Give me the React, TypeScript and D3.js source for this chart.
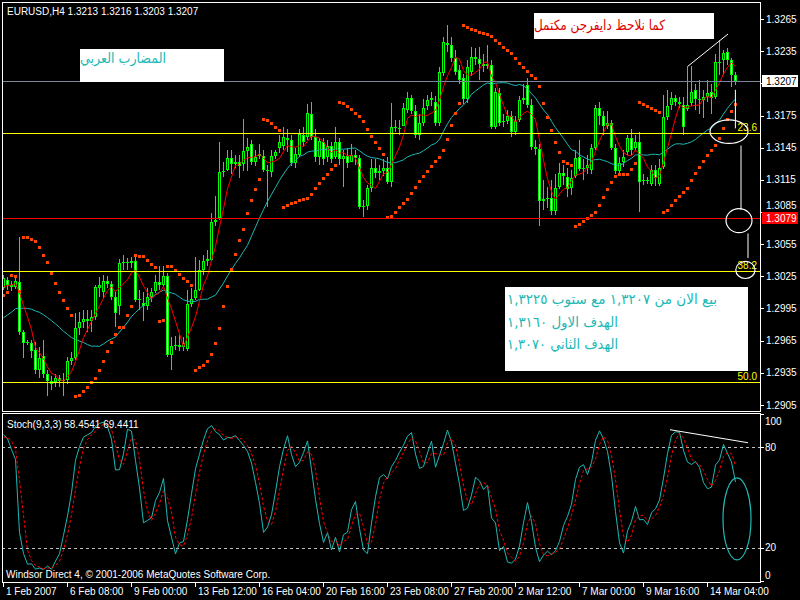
import React, { useEffect, useRef } from 'react'
import * as d3 from 'd3'

// EURUSD H4 bars, 1 Feb 2007 00:00 .. 14 Mar 2007
const opens = [
  1.3014, 1.3022, 1.3017, 1.3015, 1.3020, 1.2973, 1.2963, 1.2963, 1.2956, 1.2938,
  1.2951, 1.2934, 1.2927, 1.2926, 1.2930, 1.2927, 1.2928, 1.2946, 1.2949, 1.2977,
  1.2982, 1.2985, 1.2983, 1.2987, 1.3014, 1.3010, 1.3021, 1.3018, 1.3006, 1.2997,
  1.3037, 1.3038, 1.3037, 1.3039, 1.3003, 1.3000, 1.2997, 1.3006, 1.3011, 1.3020,
  1.3017, 1.3025, 1.2952, 1.2960, 1.2961, 1.2959, 1.2957, 1.2999, 1.3005, 1.3012,
  1.3031, 1.3039, 1.3040, 1.3076, 1.3079, 1.3122, 1.3124, 1.3135, 1.3130, 1.3132,
  1.3130, 1.3142, 1.3148, 1.3132, 1.3137, 1.3137, 1.3124, 1.3122, 1.3137, 1.3145,
  1.3147, 1.3154, 1.3152, 1.3131, 1.3138, 1.3157, 1.3155, 1.3176, 1.3155, 1.3136,
  1.3150, 1.3136, 1.3147, 1.3136, 1.3150, 1.3134, 1.3137, 1.3132, 1.3138, 1.3135,
  1.3090, 1.3091, 1.3107, 1.3126, 1.3121, 1.3123, 1.3126, 1.3113, 1.3164, 1.3163,
  1.3165, 1.3180, 1.3191, 1.3179, 1.3157, 1.3168, 1.3184, 1.3189, 1.3188, 1.3168,
  1.3215, 1.3243, 1.3241, 1.3229, 1.3217, 1.3210, 1.3190, 1.3216, 1.3230, 1.3228,
  1.3223, 1.3221, 1.3222, 1.3164, 1.3196, 1.3169, 1.3170, 1.3175, 1.3160, 1.3171,
  1.3189, 1.3203, 1.3185, 1.3146, 1.3144, 1.3095, 1.3097, 1.3098, 1.3086, 1.3108,
  1.3121, 1.3118, 1.3107, 1.3119, 1.3136, 1.3125, 1.3126, 1.3124, 1.3145, 1.3182,
  1.3175, 1.3165, 1.3168, 1.3145, 1.3123, 1.3132, 1.3141, 1.3154, 1.3145, 1.3150,
  1.3114, 1.3115, 1.3111, 1.3124, 1.3111, 1.3127, 1.3174, 1.3185, 1.3191, 1.3188,
  1.3185, 1.3181, 1.3187, 1.3199, 1.3190, 1.3189, 1.3192, 1.3197, 1.3192, 1.3225,
  1.3227, 1.3234, 1.3227, 1.3213
]
const highs = [
  1.3026, 1.3024, 1.3021, 1.3025, 1.3062, 1.2975, 1.2966, 1.2966, 1.2964, 1.2959,
  1.2966, 1.2938, 1.2932, 1.2934, 1.2933, 1.2935, 1.2950, 1.2954, 1.2991, 1.2992,
  1.2994, 1.2994, 1.2994, 1.3017, 1.3024, 1.3026, 1.3025, 1.3021, 1.3010, 1.3041,
  1.3045, 1.3042, 1.3043, 1.3044, 1.3012, 1.3010, 1.3014, 1.3014, 1.3026, 1.3035,
  1.3035, 1.3028, 1.2968, 1.2969, 1.2970, 1.2968, 1.3012, 1.3014, 1.3043, 1.3040,
  1.3045, 1.3050, 1.3084, 1.3100, 1.3150, 1.3132, 1.3143, 1.3143, 1.3138, 1.3138,
  1.3172, 1.3154, 1.3152, 1.3143, 1.3148, 1.3143, 1.3129, 1.3143, 1.3143, 1.3157,
  1.3164, 1.3162, 1.3157, 1.3145, 1.3162, 1.3164, 1.3186, 1.3188, 1.3162, 1.3154,
  1.3154, 1.3152, 1.3150, 1.3164, 1.3154, 1.3143, 1.3145, 1.3148, 1.3143, 1.3138,
  1.3096, 1.3110, 1.3134, 1.3134, 1.3129, 1.3134, 1.3136, 1.3187, 1.3171, 1.3171,
  1.3187, 1.3197, 1.3194, 1.3185, 1.3176, 1.3190, 1.3194, 1.3197, 1.3193, 1.3220,
  1.3248, 1.3259, 1.3248, 1.3236, 1.3222, 1.3214, 1.3227, 1.3239, 1.3238, 1.3239,
  1.3232, 1.3241, 1.3227, 1.3201, 1.3201, 1.3176, 1.3180, 1.3179, 1.3175, 1.3193,
  1.3204, 1.3210, 1.3190, 1.3152, 1.3148, 1.3115, 1.3108, 1.3115, 1.3120, 1.3131,
  1.3129, 1.3126, 1.3124, 1.3143, 1.3152, 1.3134, 1.3138, 1.3148, 1.3185, 1.3188,
  1.3179, 1.3179, 1.3171, 1.3148, 1.3136, 1.3143, 1.3157, 1.3162, 1.3157, 1.3160,
  1.3120, 1.3118, 1.3129, 1.3129, 1.3134, 1.3194, 1.3199, 1.3197, 1.3194, 1.3192,
  1.3192, 1.3221, 1.3221, 1.3204, 1.3208, 1.3199, 1.3208, 1.3204, 1.3232, 1.3245,
  1.3236, 1.3238, 1.3229, 1.3216
]
const lows = [
  1.3012, 1.3012, 1.3011, 1.3013, 1.2970, 1.2949, 1.2961, 1.2949, 1.2934, 1.2930,
  1.2930, 1.2913, 1.2919, 1.2922, 1.2922, 1.2913, 1.2925, 1.2942, 1.2947, 1.2970,
  1.2977, 1.2973, 1.2973, 1.2984, 1.3006, 1.3005, 1.3014, 1.3003, 1.2978, 1.2989,
  1.3031, 1.3031, 1.3033, 1.3001, 1.2994, 1.2983, 1.2994, 1.3001, 1.3009, 1.3012,
  1.3015, 1.2950, 1.2938, 1.2956, 1.2955, 1.2955, 1.2955, 1.2996, 1.3003, 1.3011,
  1.3026, 1.3035, 1.3039, 1.3072, 1.3078, 1.3118, 1.3123, 1.3120, 1.3126, 1.3117,
  1.3123, 1.3123, 1.3129, 1.3128, 1.3134, 1.3122, 1.3090, 1.3118, 1.3134, 1.3140,
  1.3143, 1.3141, 1.3128, 1.3126, 1.3136, 1.3147, 1.3152, 1.3152, 1.3132, 1.3129,
  1.3129, 1.3132, 1.3131, 1.3134, 1.3129, 1.3108, 1.3126, 1.3132, 1.3129, 1.3088,
  1.3080, 1.3087, 1.3104, 1.3117, 1.3115, 1.3119, 1.3111, 1.3108, 1.3160, 1.3157,
  1.3166, 1.3177, 1.3176, 1.3154, 1.3152, 1.3165, 1.3180, 1.3184, 1.3165, 1.3165,
  1.3212, 1.3234, 1.3225, 1.3213, 1.3204, 1.3186, 1.3187, 1.3212, 1.3222, 1.3208,
  1.3216, 1.3218, 1.3162, 1.3162, 1.3165, 1.3164, 1.3167, 1.3155, 1.3157, 1.3169,
  1.3186, 1.3182, 1.3143, 1.3138, 1.3072, 1.3087, 1.3089, 1.3082, 1.3082, 1.3106,
  1.3110, 1.3099, 1.3101, 1.3117, 1.3123, 1.3115, 1.3120, 1.3120, 1.3143, 1.3166,
  1.3157, 1.3162, 1.3143, 1.3120, 1.3120, 1.3127, 1.3138, 1.3138, 1.3143, 1.3085,
  1.3110, 1.3111, 1.3109, 1.3109, 1.3109, 1.3125, 1.3171, 1.3180, 1.3184, 1.3182,
  1.3157, 1.3179, 1.3184, 1.3180, 1.3176, 1.3173, 1.3188, 1.3176, 1.3190, 1.3213,
  1.3213, 1.3222, 1.3202, 1.3203
]
const closes = [
  1.3023, 1.3017, 1.3015, 1.3021, 1.2973, 1.2963, 1.2964, 1.2955, 1.2938, 1.2949,
  1.2934, 1.2927, 1.2925, 1.2930, 1.2927, 1.2928, 1.2946, 1.2949, 1.2977, 1.2982,
  1.2985, 1.2983, 1.2987, 1.3015, 1.3017, 1.3021, 1.3018, 1.3006, 1.2991, 1.3037,
  1.3038, 1.3037, 1.3039, 1.3003, 1.3004, 1.2997, 1.3006, 1.3010, 1.3020, 1.3017,
  1.3025, 1.2952, 1.2960, 1.2961, 1.2959, 1.2963, 1.2999, 1.3004, 1.3012, 1.3031,
  1.3039, 1.3041, 1.3076, 1.3078, 1.3122, 1.3123, 1.3135, 1.3130, 1.3132, 1.3128,
  1.3142, 1.3146, 1.3132, 1.3136, 1.3139, 1.3124, 1.3123, 1.3137, 1.3141, 1.3150,
  1.3155, 1.3152, 1.3131, 1.3139, 1.3158, 1.3150, 1.3177, 1.3155, 1.3136, 1.3151,
  1.3134, 1.3147, 1.3134, 1.3150, 1.3134, 1.3137, 1.3131, 1.3138, 1.3135, 1.3090,
  1.3091, 1.3107, 1.3126, 1.3121, 1.3123, 1.3126, 1.3113, 1.3164, 1.3163, 1.3162,
  1.3182, 1.3191, 1.3179, 1.3157, 1.3168, 1.3182, 1.3189, 1.3191, 1.3168, 1.3216,
  1.3244, 1.3241, 1.3229, 1.3216, 1.3208, 1.3190, 1.3220, 1.3230, 1.3228, 1.3223,
  1.3221, 1.3223, 1.3164, 1.3197, 1.3168, 1.3170, 1.3175, 1.3160, 1.3170, 1.3189,
  1.3191, 1.3185, 1.3146, 1.3144, 1.3095, 1.3097, 1.3098, 1.3086, 1.3107, 1.3121,
  1.3119, 1.3106, 1.3117, 1.3135, 1.3125, 1.3126, 1.3129, 1.3145, 1.3182, 1.3175,
  1.3165, 1.3168, 1.3145, 1.3123, 1.3131, 1.3136, 1.3154, 1.3143, 1.3150, 1.3113,
  1.3115, 1.3114, 1.3124, 1.3117, 1.3126, 1.3174, 1.3184, 1.3191, 1.3188, 1.3186,
  1.3164, 1.3185, 1.3197, 1.3190, 1.3189, 1.3192, 1.3196, 1.3191, 1.3225, 1.3224,
  1.3233, 1.3227, 1.3213, 1.3207
]

// bars before the visible window, only used to seed the indicators
const priorHighs = [
  1.2968, 1.2966, 1.2963, 1.2966, 1.2972, 1.2974, 1.2977, 1.2979, 1.2984, 1.2986,
  1.2990, 1.2994, 1.3000, 1.3004, 1.3010, 1.3013, 1.3017, 1.3019, 1.3021, 1.3022
]
const priorLows = [
  1.2955, 1.2951, 1.2949, 1.2953, 1.2957, 1.2961, 1.2964, 1.2966, 1.2969, 1.2973,
  1.2976, 1.2979, 1.2984, 1.2990, 1.2996, 1.3000, 1.3004, 1.3006, 1.3008, 1.3010
]
const priorCloses = [
  1.2961, 1.2958, 1.2956, 1.2960, 1.2966, 1.2968, 1.2970, 1.2972, 1.2977, 1.2980,
  1.2983, 1.2986, 1.2992, 1.2997, 1.3003, 1.3007, 1.3011, 1.3012, 1.3014, 1.3016
]

const priceTicks = [1.3265, 1.3235, 1.3205, 1.3175, 1.3145, 1.3115, 1.3085, 1.3055, 1.3025, 1.2995, 1.2965, 1.2935, 1.2905]
const timeLabels = ['1 Feb 2007', '6 Feb 08:00', '9 Feb 00:00', '13 Feb 12:00', '16 Feb 04:00', '20 Feb 16:00',
  '23 Feb 08:00', '27 Feb 20:00', '2 Mar 12:00', '7 Mar 00:00', '9 Mar 16:00', '14 Mar 04:00']
const timeLabelBars = [0, 16, 32, 48, 64, 80, 96, 112, 128, 144, 160, 176]
const fibLabels = ['23.6', '38.2', '50.0']
const fibPrices = [1.3159, 1.3030, 1.2926]
const bidPrice = 1.3207
const alertPrice = 1.3079
const stochTicks = [100, 80, 20, 0]
const stochLevels = [80, 20]

const uiFont = "'Liberation Sans', Arial, sans-serif"
const arFont = "'DejaVu Sans', sans-serif"

export default function App() {
  const svgRef = useRef<SVGSVGElement>(null)

  useEffect(() => {
    if (!svgRef.current) return
    const W = 800, H = 600
    const left = 2, right = 760
    const mainTop = 2, mainBottom = 411
    const subTop = 413, subBottom = 582
    const lime = '#00ff00'
    const teal = '#20b8b4'

    const svg = d3.select(svgRef.current)
    svg.selectAll('*').remove()
    svg.attr('width', W).attr('height', H).style('display', 'block').style('background', '#000')

    const n = closes.length
    const x = d3.scaleLinear().domain([0, n - 1]).range([3, 3 + 4 * (n - 1)])
    const y = d3.scaleLinear().domain([1.2905, 1.3265]).range([405, 19])
    const ys = d3.scaleLinear().domain([0, 100]).range([581, 414])

    // indicators, run over prior + visible bars
    const allH = priorHighs.concat(highs)
    const allL = priorLows.concat(lows)
    const allC = priorCloses.concat(closes)
    const off = priorCloses.length

    const sma = (p: number) => allC.map((_, i) => i < p - 1 ? null : d3.mean(allC.slice(i - p + 1, i + 1)) as number)
    const fastMa = sma(5).slice(off)
    const slowMa = sma(21).slice(off)

    const hh = allH.map((_, i) => i < 8 ? null : d3.max(allH.slice(i - 8, i + 1)) as number)
    const ll = allL.map((_, i) => i < 8 ? null : d3.min(allL.slice(i - 8, i + 1)) as number)
    const kAll = allC.map((_, i) => {
      if (i < 10) return null
      let num = 0, den = 0
      for (let j = i - 2; j <= i; j++) { num += allC[j] - (ll[j] as number); den += (hh[j] as number) - (ll[j] as number) }
      return den === 0 ? 100 : 100 * num / den
    })
    const dAll = kAll.map((_, i) => i < 12 ? null : ((kAll[i] as number) + (kAll[i - 1] as number) + (kAll[i - 2] as number)) / 3)
    const stochMain = kAll.slice(off)
    const stochSignal = dAll.slice(off)

    const sarAll: number[] = []
    let up = true, af = 0.02, ep = allH[0], s = allL[0]
    sarAll.push(s)
    for (let i = 1; i < allC.length; i++) {
      s = s + af * (ep - s)
      if (up) {
        s = Math.min(s, allL[i - 1], allL[Math.max(0, i - 2)])
        if (allL[i] < s) { up = false; s = ep; ep = allL[i]; af = 0.02 }
        else if (allH[i] > ep) { ep = allH[i]; af = Math.min(af + 0.02, 0.2) }
      } else {
        s = Math.max(s, allH[i - 1], allH[Math.max(0, i - 2)])
        if (allH[i] > s) { up = true; s = ep; ep = allH[i]; af = 0.02 }
        else if (allL[i] < ep) { ep = allL[i]; af = Math.min(af + 0.02, 0.2) }
      }
      sarAll.push(s)
    }
    const sar = sarAll.slice(off)

    const defs = svg.append('defs')
    defs.append('clipPath').attr('id', 'clip-main').append('rect')
      .attr('x', left + 1).attr('y', mainTop + 1).attr('width', right - left - 1).attr('height', mainBottom - mainTop - 1)
    defs.append('clipPath').attr('id', 'clip-sub').append('rect')
      .attr('x', left + 1).attr('y', subTop + 1).attr('width', right - left - 1).attr('height', subBottom - subTop - 1)

    // ---- main panel ----
    const main = svg.append('g').attr('clip-path', 'url(#clip-main)')
    const bars = d3.range(n)

    const candle = main.append('g').attr('shape-rendering', 'crispEdges')
      .selectAll('g').data(bars).join('g')
    candle.append('rect')
      .attr('x', i => x(i)).attr('width', 1)
      .attr('y', i => Math.round(y(highs[i])))
      .attr('height', i => Math.max(1, Math.round(y(lows[i])) - Math.round(y(highs[i]))))
      .attr('fill', lime)
    const bodyTop = (i: number) => Math.round(y(Math.max(opens[i], closes[i])))
    const bodyH = (i: number) => Math.max(1, Math.round(y(Math.min(opens[i], closes[i]))) - bodyTop(i))
    candle.append('rect')
      .attr('x', i => x(i) - 1).attr('width', 3)
      .attr('y', bodyTop).attr('height', bodyH)
      .attr('fill', lime)
    candle.filter(i => bodyH(i) >= 3).append('rect')
      .attr('x', i => x(i)).attr('width', 1)
      .attr('y', i => bodyTop(i) + 1).attr('height', i => bodyH(i) - 2)
      .attr('fill', i => closes[i] >= opens[i] ? '#000' : '#fff')

    const maLine = d3.line<number | null>()
      .defined(v => v != null)
      .x((_, i) => x(i) + 0.5)
      .y(v => y(v as number))
    main.append('path').attr('d', maLine(slowMa)).attr('fill', 'none').attr('stroke', teal).attr('stroke-width', 1)
    main.append('path').attr('d', maLine(fastMa)).attr('fill', 'none').attr('stroke', '#ff0000').attr('stroke-width', 1)

    main.append('g').attr('shape-rendering', 'crispEdges')
      .selectAll('rect').data(bars).join('rect')
      .attr('x', i => x(i) - 1).attr('y', i => Math.round(y(sar[i])) - 1)
      .attr('width', 3).attr('height', 3)
      .attr('fill', '#ff4500')

    // horizontal objects
    const hline = (p: number, color: string) => main.append('line')
      .attr('x1', left).attr('x2', right)
      .attr('y1', Math.round(y(p)) + 0.5).attr('y2', Math.round(y(p)) + 0.5)
      .attr('stroke', color).attr('shape-rendering', 'crispEdges')
    fibPrices.forEach(p => hline(p, '#ffff00'))
    hline(bidPrice, '#778899')
    hline(alertPrice, '#ff0000')
    main.append('g').selectAll('text').data(fibLabels).join('text')
      .attr('x', 757).attr('y', (_, i) => Math.round(y(fibPrices[i])) - 2)
      .attr('text-anchor', 'end').attr('fill', '#ffff00')
      .style('font-family', uiFont).style('font-size', '10px')
      .text(d => d)

    // hand drawn annotations (bar index, price)
    const white = '#ffffff'
    const seg = (b1: number, p1: number, b2: number, p2: number) => main.append('line')
      .attr('x1', x(b1)).attr('y1', y(p1)).attr('x2', x(b2)).attr('y2', y(p2))
      .attr('stroke', white).attr('stroke-width', 1)
    const ell = (b: number, p: number, rb: number, rp: number) => main.append('ellipse')
      .attr('cx', x(b)).attr('cy', y(p))
      .attr('rx', x(b + rb) - x(b)).attr('ry', y(p - rp) - y(p))
      .attr('fill', 'none').attr('stroke', white).attr('stroke-width', 1.2)
    seg(171.25, 1.3221, 181.25, 1.3251)
    seg(183.1, 1.3199, 183.1, 1.3163)
    ell(181.5, 1.3160, 4.75, 0.0011)
    seg(184.5, 1.3147, 184.5, 1.3087)
    ell(184, 1.3077, 3.25, 0.00112)
    seg(186.25, 1.3065, 186.25, 1.3042)
    ell(185.6, 1.3031, 2.4, 0.0008)

    // text boxes
    const box = (bx: number, by: number, bw: number, bh: number) =>
      svg.append('rect').attr('x', bx).attr('y', by).attr('width', bw).attr('height', bh).attr('fill', '#fff')
    const arText = (tx: number, ty: number, len: number, color: string, str: string) =>
      svg.append('text').attr('x', tx).attr('y', ty)
        .attr('textLength', len).attr('lengthAdjust', 'spacingAndGlyphs')
        .attr('fill', color).style('font-family', arFont).style('font-size', '14px')
        .text(str)
    box(80, 49, 144, 33)
    arText(80, 63, 86, teal, 'المضارب العربي')
    box(534, 13, 180, 26)
    arText(534, 30, 131, '#e00000', 'كما نلاحظ دايفرجن مكتمل')
    box(505, 287, 243, 84)
    arText(507, 304, 210, teal, 'بيع الان من ١,٣٢٠٧ مع ستوب ١,٣٢٢٥')
    arText(507, 327, 111, teal, 'الهدف الاول ١,٣١٦٠')
    arText(507, 349, 111, teal, 'الهدف الثاني ١,٣٠٧٠')

    // ---- stochastic panel ----
    const sub = svg.append('g').attr('clip-path', 'url(#clip-sub)')
    sub.append('g').selectAll('line').data(stochLevels).join('line')
      .attr('x1', left).attr('x2', right)
      .attr('y1', v => Math.round(ys(v)) + 0.5).attr('y2', v => Math.round(ys(v)) + 0.5)
      .attr('stroke', '#c0c0c0').attr('stroke-dasharray', '3,3').attr('shape-rendering', 'crispEdges')
    const stLine = d3.line<number | null>()
      .defined(v => v != null)
      .x((_, i) => x(i) + 0.5)
      .y(v => ys(v as number))
    sub.append('path').attr('d', stLine(stochMain)).attr('fill', 'none').attr('stroke', teal).attr('stroke-width', 1)
    sub.append('path').attr('d', stLine(stochSignal)).attr('fill', 'none').attr('stroke', '#ff0000')
      .attr('stroke-width', 1).attr('stroke-dasharray', '3,2')
    sub.append('line')
      .attr('x1', x(166.75)).attr('y1', ys(90.6)).attr('x2', x(186.25)).attr('y2', ys(82.8))
      .attr('stroke', white)
    sub.append('ellipse')
      .attr('cx', x(183.5)).attr('cy', ys(37.2))
      .attr('rx', x(187) - x(183.5)).attr('ry', ys(12.6) - ys(37.2))
      .attr('fill', 'none').attr('stroke', teal).attr('stroke-width', 1.2)

    // ---- frames and axes ----
    const frame = svg.append('g').attr('shape-rendering', 'crispEdges').attr('fill', 'none').attr('stroke', '#fff')
    frame.append('rect').attr('x', left + 0.5).attr('y', mainTop + 0.5)
      .attr('width', right - left).attr('height', mainBottom - mainTop)
    frame.append('rect').attr('x', left + 0.5).attr('y', subTop + 0.5)
      .attr('width', right - left).attr('height', subBottom - subTop)

    const axisText = (sel: any) => sel.attr('fill', '#fff').style('font-family', uiFont).style('font-size', '10px')

    // the bid tag hides the tick label right under it; a label just above the alert tag is lifted clear of it
    const shownTicks = priceTicks.filter(p => Math.abs(y(p) - y(bidPrice)) > 4)
    const alertY = y(alertPrice)
    const tagTop = Math.round(alertY) - 6
    const labelY = (p: number) => {
      const yy = y(p)
      return yy < alertY && yy > alertY - 14 ? tagTop - 7 : yy
    }
    const pAxis = svg.append('g')
    pAxis.selectAll('line').data(priceTicks).join('line')
      .attr('x1', right).attr('x2', right + 4)
      .attr('y1', p => Math.round(y(p)) + 0.5).attr('y2', p => Math.round(y(p)) + 0.5)
      .attr('stroke', '#fff').attr('shape-rendering', 'crispEdges')
    pAxis.selectAll('text').data(shownTicks).join('text')
      .attr('x', 766).attr('y', labelY).attr('dy', '0.35em')
      .call(axisText)
      .text(p => d3.format('.4f')(p))

    const tag = (p: number, bg: string, fg: string) => {
      svg.append('rect').attr('x', 762).attr('y', Math.round(y(p)) - 6).attr('width', 36).attr('height', 12).attr('fill', bg)
      svg.append('text').attr('x', 766).attr('y', y(p)).attr('dy', '0.35em')
        .attr('fill', fg).style('font-family', uiFont).style('font-size', '10px')
        .text(d3.format('.4f')(p))
    }
    tag(bidPrice, '#fff', '#000')
    tag(alertPrice, '#ff0000', '#fff')

    const sAxis = svg.append('g')
    sAxis.selectAll('line').data(stochTicks).join('line')
      .attr('x1', right).attr('x2', right + 4)
      .attr('y1', v => Math.round(ys(v)) + 0.5).attr('y2', v => Math.round(ys(v)) + 0.5)
      .attr('stroke', '#fff').attr('shape-rendering', 'crispEdges')
    sAxis.selectAll('text').data(stochTicks).join('text')
      .attr('x', 765)
      .attr('y', v => v === 100 ? ys(v) + 7 : v === 0 ? ys(v) - 6 : ys(v))
      .attr('dy', '0.35em')
      .call(axisText)
      .text(v => String(v))

    const tAxis = svg.append('g')
    tAxis.selectAll('line').data(timeLabelBars).join('line')
      .attr('x1', b => x(b) + 0.5).attr('x2', b => x(b) + 0.5)
      .attr('y1', subBottom).attr('y2', subBottom + 5)
      .attr('stroke', '#fff').attr('shape-rendering', 'crispEdges')
    tAxis.selectAll('text').data(timeLabels).join('text')
      .attr('x', (_, i) => x(timeLabelBars[i]) + 3).attr('y', 595)
      .call(axisText)
      .text(d => d)

    const last = n - 1
    const f4 = d3.format('.4f')
    svg.append('text').attr('x', 7).attr('y', 15).call(axisText)
      .text(`EURUSD,H4  ${f4(opens[last])} ${f4(highs[last])} ${f4(lows[last])} ${f4(closes[last])}`)
    svg.append('text').attr('x', 7).attr('y', 428).call(axisText)
      .text('Stoch(9,3,3) 58.4541 69.4411')
    svg.append('text').attr('x', 6).attr('y', 578).call(axisText)
      .text('Windsor Direct 4, © 2001-2006 MetaQuotes Software Corp.')
  }, [])

  return (
    <div style={{ position: 'fixed', left: 0, top: 0, width: 800, height: 600, background: '#000' }}>
      <svg ref={svgRef}></svg>
    </div>
  )
}
